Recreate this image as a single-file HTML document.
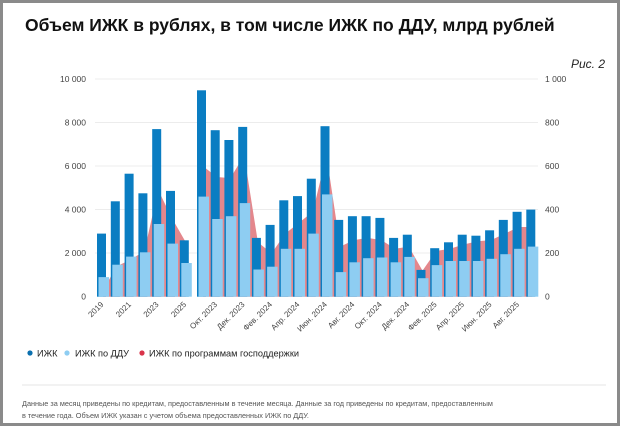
<!DOCTYPE html>
<html><head><meta charset="utf-8"><style>
body{margin:0;background:#fff;}
#w{position:relative;width:614px;height:420px;border:3px solid #8a8a8a;background:#fff;overflow:hidden;font-family:"Liberation Sans",sans-serif;}
</style></head><body><div id="w">
<svg width="614" height="420" viewBox="3 3 614 420" xmlns="http://www.w3.org/2000/svg" style="position:absolute;left:0;top:0">
<text x="25" y="31" font-size="17.5" font-weight="bold" fill="#111">Объем ИЖК в рублях, в том числе ИЖК по ДДУ, млрд рублей</text>
<text x="605" y="68" font-size="12" font-style="italic" fill="#222" text-anchor="end">Рис. 2</text>
<g stroke="#ececec" stroke-width="1">
<line x1="95" x2="538" y1="79" y2="79"/><line x1="95" x2="538" y1="122.5" y2="122.5"/><line x1="95" x2="538" y1="166" y2="166"/><line x1="95" x2="538" y1="209.5" y2="209.5"/><line x1="95" x2="538" y1="253" y2="253"/>
</g>
<g font-size="8.5" fill="#444" text-anchor="end">
<text x="86" y="82">10 000</text><text x="86" y="125.5">8 000</text><text x="86" y="169">6 000</text><text x="86" y="212.5">4 000</text><text x="86" y="256">2 000</text><text x="86" y="299.5">0</text>
</g>
<g font-size="8.5" fill="#444">
<text x="545" y="82">1 000</text><text x="545" y="125.5">800</text><text x="545" y="169">600</text><text x="545" y="212.5">400</text><text x="545" y="256">200</text><text x="545" y="299.5">0</text>
</g>
<g id="plot"></g>
<g font-size="8" fill="#444" text-anchor="end">
<text transform="translate(104,305) rotate(-45)">2019</text>
<text transform="translate(131.6,305) rotate(-45)">2021</text>
<text transform="translate(159.2,305) rotate(-45)">2023</text>
<text transform="translate(186.8,305) rotate(-45)">2025</text>
<text transform="translate(217.7,305) rotate(-45)">Окт. 2023</text>
<text transform="translate(245.2,305) rotate(-45)">Дек. 2023</text>
<text transform="translate(272.6,305) rotate(-45)">Фев. 2024</text>
<text transform="translate(300,305) rotate(-45)">Апр. 2024</text>
<text transform="translate(327.5,305) rotate(-45)">Июн. 2024</text>
<text transform="translate(355,305) rotate(-45)">Авг. 2024</text>
<text transform="translate(382.4,305) rotate(-45)">Окт. 2024</text>
<text transform="translate(409.8,305) rotate(-45)">Дек. 2024</text>
<text transform="translate(437.3,305) rotate(-45)">Фев. 2025</text>
<text transform="translate(464.7,305) rotate(-45)">Апр. 2025</text>
<text transform="translate(492.2,305) rotate(-45)">Июн. 2025</text>
<text transform="translate(519.6,305) rotate(-45)">Авг. 2025</text>
</g>
<g font-size="9.2" fill="#222">
<circle cx="30" cy="353" r="2.6" fill="#0a6fae"/><text x="37" y="356.5">ИЖК</text>
<circle cx="67" cy="353" r="2.6" fill="#8ecdf2"/><text x="75" y="356.5">ИЖК по ДДУ</text>
<circle cx="142" cy="353" r="2.6" fill="#d9344a"/><text x="149" y="356.5">ИЖК по программам господдержки</text>
</g>
<line x1="22" x2="606" y1="385" y2="385" stroke="#e6e6e6"/>
<g font-size="7.3" fill="#555">
<text x="22" y="406">Данные за месяц приведены по кредитам, предоставленным в течение месяца. Данные за год приведены по кредитам, предоставленным</text>
<text x="22" y="418">в течение года. Объем ИЖК указан с учетом объема предоставленных ИЖК по ДДУ.</text>
</g>
</svg>
<script>
(function(){
var y=function(v){return 296.7-v*0.02177;};
var A={d:[2900,4380,5650,4750,7700,4860,2590],l:[900,1470,1840,2040,3340,2440,1550],r:[300,1400,1700,2100,4900,3600,2500]};
var M={d:[9480,7650,7200,7800,2700,3300,4430,4620,5420,7830,3530,3700,3700,3620,2700,2850,1230,2230,2500,2850,2800,3050,3530,3900,4000],
l:[4600,3570,3700,4300,1250,1380,2200,2200,2900,4700,1130,1580,1770,1800,1580,1830,850,1450,1640,1640,1640,1740,1950,2200,2300],
r:[6000,5500,5450,6500,2500,2000,2900,3400,3900,6500,2300,2600,2700,2600,2200,2300,1200,2100,2200,2400,2550,2600,2900,3200,3200]};
var s='';
function grp(G,x0,p){
 var pts=[],n=G.d.length;
 for(var i=0;i<n;i++){pts.push((x0+i*p+6).toFixed(1)+','+y(G.r[i]).toFixed(1));}
 s+='<polygon fill="#e4878c" points="'+(x0+6)+',296.7 '+pts.join(' ')+' '+(x0+(n-1)*p+6).toFixed(1)+',296.7"/>';
 for(var i=0;i<n;i++){var x=x0+i*p;
  s+='<rect x="'+x.toFixed(1)+'" y="'+y(G.d[i]).toFixed(1)+'" width="9" height="'+(296.7-y(G.d[i])).toFixed(1)+'" fill="#0a7dc2"/>';
  s+='<rect x="'+(x+1.5).toFixed(1)+'" y="'+y(G.l[i]).toFixed(1)+'" width="10.5" height="'+(296.7-y(G.l[i])).toFixed(1)+'" fill="#8ecdf2"/>';}
}
grp(A,97,13.8);grp(M,197,13.72);
document.getElementById('plot').innerHTML=s;
})();
</script>
</div></body></html>
